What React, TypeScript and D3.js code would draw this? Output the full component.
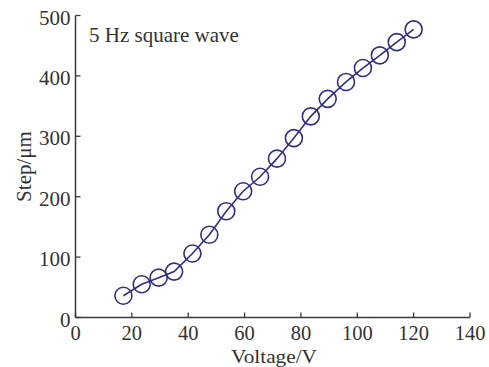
import React from "react";
import * as d3 from "d3";

const voltage = [17, 23.5, 29.5, 35, 41.5, 47.5, 53.5, 59.5, 65.5, 71.5, 77.5, 83.5, 89.5, 96, 102, 108, 114, 120];
const step = [36, 55, 66, 76, 106, 137, 176, 209, 233, 263, 297, 333, 362, 390, 413, 434, 456, 477];
const xTicks = [0, 20, 40, 60, 80, 100, 120, 140];
const yTicks = [0, 100, 200, 300, 400, 500];

const W = 489;
const H = 367;
const left = 75.5;
const right = 470;
const top = 15.5;
const bottom = 317.5;
const font = "'Liberation Serif', 'Times New Roman', serif";
const axisColor = "#3a3a3a";
const lineColor = "#2f2f86";

export default function App() {
  const x = d3.scaleLinear().domain([0, 140]).range([left, right]);
  const y = d3.scaleLinear().domain([0, 500]).range([bottom, top]);
  const pts = voltage.map((v, i) => [v, step[i]] as [number, number]);
  const line = d3
    .line<[number, number]>()
    .x((d) => x(d[0]))
    .y((d) => y(d[1]));

  return (
    <svg
      width={W}
      height={H}
      style={{ position: "absolute", left: 0, top: 0, background: "#fff" }}
      fontFamily={font}
    >
      <rect width={W} height={H} fill="#fff" />
      {/* axes */}
      <line x1={left} x2={right} y1={bottom} y2={bottom} stroke={axisColor} strokeWidth={1.5} />
      <line x1={left} x2={left} y1={top} y2={bottom} stroke={axisColor} strokeWidth={1.5} />
      {xTicks.map((t) => (
        <g key={"x" + t}>
          <line x1={x(t)} x2={x(t)} y1={bottom} y2={bottom - 5} stroke={axisColor} strokeWidth={1.3} />
          <text x={x(t)} y={bottom + 22.5} textAnchor="middle" fontSize={20.5} fill="#333">
            {t}
          </text>
        </g>
      ))}
      {yTicks.map((t) => (
        <g key={"y" + t}>
          <line x1={left} x2={left + 5} y1={y(t)} y2={y(t)} stroke={axisColor} strokeWidth={1.3} />
          <text x={left - 5} y={y(t) + 9} textAnchor="end" fontSize={21} fill="#333">
            {t}
          </text>
        </g>
      ))}
      <text x={274} y={362.5} textAnchor="middle" fontSize={19.5} fill="#333" textLength={86} lengthAdjust="spacingAndGlyphs">
        Voltage/V
      </text>
      <text
        transform={`translate(31, ${(top + bottom) / 2}) rotate(-90)`}
        textAnchor="middle"
        fontSize={21}
        fill="#333"
      >
        Step/μm
      </text>
      <text x={89} y={42} fontSize={21} fill="#333">
        5 Hz square wave
      </text>
      {/* data */}
      <path d={line(pts) ?? ""} fill="none" stroke={lineColor} strokeWidth={1.6} />
      {pts.map((d, i) => (
        <circle
          key={i}
          cx={x(d[0])}
          cy={y(d[1])}
          r={8.5}
          fill="none"
          stroke={lineColor}
          strokeWidth={1.6}
        />
      ))}
    </svg>
  );
}
